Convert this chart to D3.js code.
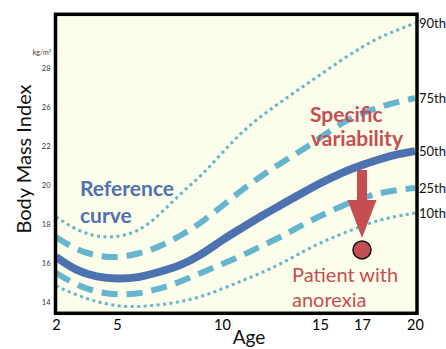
<!DOCTYPE html>
<html><head><meta charset="utf-8">
<script src="https://cdn.jsdelivr.net/npm/d3@7"></script>
<style>html,body{margin:0;padding:0;background:#fff;}svg{display:block;}</style>
</head><body>
<svg id="chart" width="446" height="349"></svg>
<script>
// ---- data ----
const ages = [2,3,4,5,6,7,8,9,10,11,12,13,14,15,16,17,18,19,20];
const p90 = [18.36,17.69,17.33,17.33,17.59,18.44,19.54,20.46,21.64,22.72,23.54,24.26,24.97,25.64,26.41,27.08,27.59,27.95,28.31];
const p75 = [17.33,16.67,16.36,16.26,16.46,16.82,17.38,18.05,18.92,19.74,20.46,21.13,21.74,22.41,23.18,23.69,24.00,24.26,24.46];
const p50 = [16.31,15.59,15.28,15.18,15.23,15.54,15.85,16.41,17.18,17.79,18.41,18.97,19.54,20.10,20.62,21.03,21.33,21.59,21.74];
const p25 = [15.49,14.87,14.51,14.36,14.41,14.67,15.03,15.49,15.95,16.36,16.87,17.33,17.90,18.41,18.92,19.33,19.59,19.74,19.85];
const p10 = [14.82,14.36,14.00,13.79,13.74,13.85,14.00,14.26,14.67,15.08,15.49,15.95,16.51,17.03,17.49,17.90,18.21,18.41,18.56];
const percentileLabels = ["90th","75th","50th","25th","10th"];
const xTicks = [2,5,10,15,17,20];
const yTickValues = [14,16,18,20,22,24,26];
const yTickLabels = ["14","16","18","20","22","26","28"];
const patientAge = 17;
const patientBMI = 16.67;

// ---- layout ----
const svg = d3.select("#chart");
const X0 = 55.5, X1 = 417, Y0 = 14.3, Y1 = 313.3;
const x = d3.scaleLinear().domain(xTicks).range([56,117,222,320,362,415]);
const y = d3.scaleLinear().domain([13.42, 28.76]).range([Y1, Y0]);

const FONT = "Lato, 'DejaVu Sans', sans-serif";
const RED = "#c44e52", BLUE = "#4c72b0", LBLUE = "#64b5cd";

svg.append("rect").attr("x",X0).attr("y",Y0).attr("width",X1-X0).attr("height",Y1-Y0).attr("fill","#fdfdeb");
svg.append("clipPath").attr("id","clip").append("rect").attr("x",X0).attr("y",Y0).attr("width",X1-X0).attr("height",Y1-Y0);

const line = d3.line().x((d,i)=>x(ages[i])).y(d=>y(d)).curve(d3.curveBasis);
const g = svg.append("g").attr("clip-path","url(#clip)");
const series = [
  {v:p90, c:LBLUE, w:3, dash:"3,3.5"},
  {v:p10, c:LBLUE, w:3, dash:"3,3.5"},
  {v:p75, c:LBLUE, w:6, dash:"16,9"},
  {v:p25, c:LBLUE, w:6, dash:"16,9"},
  {v:p50, c:BLUE, w:8, dash:null}
];
series.forEach(s=>{
  g.append("path").attr("d",line(s.v)).attr("fill","none").attr("stroke",s.c)
   .attr("stroke-width",s.w).attr("stroke-dasharray",s.dash);
});

// annotations
svg.append("text").attr("x",80).attr("y",196).attr("fill",BLUE).attr("font-family",FONT)
  .attr("font-weight","bold").attr("font-size",21).text("Reference");
svg.append("text").attr("x",80).attr("y",223).attr("fill",BLUE).attr("font-family",FONT)
  .attr("font-weight","bold").attr("font-size",21).text("curve");
svg.append("text").attr("x",310).attr("y",122).attr("fill",RED).attr("font-family",FONT)
  .attr("font-weight","bold").attr("font-size",21).text("Specific");
svg.append("text").attr("x",311).attr("y",146).attr("fill",RED).attr("font-family",FONT)
  .attr("font-weight","bold").attr("font-size",21).text("variability");
svg.append("text").attr("x",292).attr("y",282).attr("fill",RED).attr("font-family",FONT)
  .attr("font-size",20).text("Patient with");
svg.append("text").attr("x",292).attr("y",307).attr("fill",RED).attr("font-family",FONT)
  .attr("font-size",20).text("anorexia");

// arrow
const ax = x(patientAge);
const refAt = p50[ages.indexOf(patientAge)];
const arrTop = y(refAt) + 5, arrTip = y(patientBMI) - 12, headTop = arrTip - 38;
svg.append("path").attr("fill",RED)
  .attr("d",`M${ax-5},${arrTop}L${ax+5},${arrTop}L${ax+5},${headTop}L${ax+14.5},${headTop}L${ax},${arrTip}L${ax-14.5},${headTop}L${ax-5},${headTop}Z`);
svg.append("circle").attr("cx",x(patientAge)).attr("cy",y(patientBMI)).attr("r",9)
  .attr("fill",RED).attr("stroke","#111").attr("stroke-width",1.5);

// frame
svg.append("rect").attr("x",X0).attr("y",Y0).attr("width",X1-X0).attr("height",Y1-Y0)
  .attr("fill","none").attr("stroke","#000").attr("stroke-width",3.5);

// x axis
const xa = svg.append("g").attr("transform",`translate(0,${Y1+2})`)
  .call(d3.axisBottom(x).tickValues(xTicks).tickSize(0).tickPadding(4));
xa.select(".domain").remove();
xa.selectAll("text").attr("font-family",FONT).attr("font-size",14.5).attr("fill","#000");

// y axis
const ya = svg.append("g").attr("transform",`translate(${X0-4},0)`)
  .call(d3.axisLeft(y).tickValues(yTickValues).tickFormat((d,i)=>yTickLabels[i]).tickSize(0).tickPadding(1));
ya.select(".domain").remove();
ya.selectAll("text").attr("font-family",FONT).attr("font-size",7.5).attr("fill","#333");
svg.append("text").attr("x",51).attr("y",y(26.67)).attr("text-anchor","end").attr("font-family",FONT)
  .attr("font-size",7).attr("fill","#333").text("kg/m²");

// percentile labels
[p90,p75,p50,p25,p10].forEach((s,i)=>{
  svg.append("text").attr("x",X1+2).attr("y",y(s[s.length-1])).attr("dy","0.35em")
    .attr("font-family",FONT).attr("font-size",13).attr("fill","#111").text(percentileLabels[i]);
});

// axis titles
svg.append("text").attr("x",249).attr("y",344).attr("text-anchor","middle").attr("font-family",FONT)
  .attr("font-size",19).attr("fill","#111").text("Age");
svg.append("text").attr("transform",`translate(31,159) rotate(-90)`).attr("text-anchor","middle")
  .attr("font-family",FONT).attr("font-size",20).attr("fill","#111").text("Body Mass Index");
</script>
</body></html>
